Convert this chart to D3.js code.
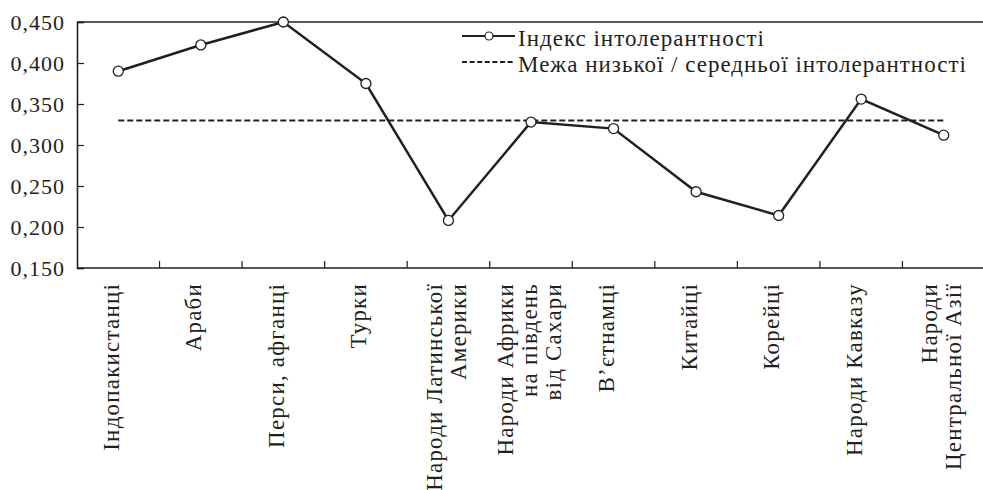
<!DOCTYPE html>
<html>
<head>
<meta charset="utf-8">
<script src="https://cdn.jsdelivr.net/npm/d3@7"></script>
<style>
body { margin:0; background:#fff; }
</style>
</head>
<body>
<svg id="chart" width="983" height="490"></svg>
<script>
// categories (lines of the rotated labels)
var categories = [
  ["Індопакистанці"],
  ["Араби"],
  ["Перси, афганці"],
  ["Турки"],
  ["Народи Латинської", "Америки"],
  ["Народи Африки", "на південь", "від Сахари"],
  ["В’єтнамці"],
  ["Китайці"],
  ["Корейці"],
  ["Народи Кавказу"],
  ["Народи", "Центральної Азії"]
];
var intolerance = [0.390, 0.422, 0.450, 0.375, 0.208, 0.328, 0.320, 0.243, 0.214, 0.356, 0.312];
var threshold = 0.330;
var yTicks = [0.150, 0.200, 0.250, 0.300, 0.350, 0.400, 0.450];
var legendLabels = ["Індекс інтолерантності", "Межа низької / середньої інтолерантності"];

var ink = "#231f20";
var serif = "'Liberation Serif'";
var svg = d3.select("#chart");
var pLeft = 77, pRight = 985, pTop = 22, pBottom = 268;

var x = d3.scaleBand().domain(d3.range(categories.length)).range([pLeft, pRight]);
var y = d3.scaleLinear().domain([0.15, 0.45]).range([pBottom, pTop]);
var cx = function(i){ return x(i) + x.bandwidth() / 2; };

// frame top line
svg.append("line")
  .attr("x1", pLeft).attr("x2", 983).attr("y1", pTop).attr("y2", pTop)
  .attr("stroke", ink).attr("stroke-width", 1.6);

// y axis, ticks pointing inside
var yAxis = svg.append("g").attr("transform", "translate(" + pLeft + ",0)")
  .call(d3.axisLeft(y).tickValues(yTicks).tickSize(-7).tickPadding(12)
        .tickFormat(function(d){ return d3.format(".3f")(d).replace(".", ","); }));
yAxis.attr("font-family", serif);
yAxis.select(".domain").attr("stroke", ink).attr("stroke-width", 1.6);
yAxis.selectAll(".tick line").attr("stroke", ink).attr("stroke-width", 1.2);
yAxis.selectAll("text").attr("font-size", 22).attr("font-family", serif)
  .attr("letter-spacing", 1).attr("fill", ink);

// x axis with ticks on band boundaries
var xAxis = svg.append("g").attr("transform", "translate(0," + pBottom + ")");
xAxis.append("line").attr("x1", pLeft).attr("x2", 983).attr("stroke", ink).attr("stroke-width", 1.6);
xAxis.selectAll(".xt").data(d3.range(1, categories.length)).enter().append("line")
  .attr("x1", function(i){ return x(i); }).attr("x2", function(i){ return x(i); })
  .attr("y1", 0).attr("y2", -7).attr("stroke", ink).attr("stroke-width", 1.2);

var lineH = 24;
var lab = xAxis.selectAll(".lab").data(categories).enter().append("text")
  .attr("transform", function(d, i){
    var shift = d.length === 1 ? -7 : -2;
    return "translate(" + (cx(i) + shift) + ",15) rotate(-90)";
  })
  .attr("text-anchor", "end").attr("font-size", 23).attr("letter-spacing", 1.2)
  .attr("font-family", serif).attr("fill", ink);
lab.each(function(d){
  var t = d3.select(this), n = d.length;
  d.forEach(function(s, k){
    t.append("tspan").attr("x", 0)
      .attr("y", (k - (n - 1) / 2) * lineH + 7.5)
      .text(s);
  });
});

// threshold line
svg.append("line")
  .attr("x1", cx(0)).attr("x2", cx(categories.length - 1))
  .attr("y1", y(threshold)).attr("y2", y(threshold))
  .attr("stroke", ink).attr("stroke-width", 2).attr("stroke-dasharray", "6,3");

// series line
svg.append("path").datum(intolerance)
  .attr("fill", "none").attr("stroke", ink).attr("stroke-width", 2.5)
  .attr("d", d3.line().x(function(d, i){ return cx(i); }).y(function(d){ return y(d); }));

svg.selectAll(".pt").data(intolerance).enter().append("circle")
  .attr("cx", function(d, i){ return cx(i); }).attr("cy", function(d){ return y(d); })
  .attr("r", 5).attr("fill", "#fff").attr("stroke", ink).attr("stroke-width", 1.3);

// legend
var lg = svg.append("g");
lg.append("line").attr("x1", 462).attr("x2", 515).attr("y1", 36).attr("y2", 36)
  .attr("stroke", ink).attr("stroke-width", 2);
lg.append("circle").attr("cx", 489).attr("cy", 36).attr("r", 4)
  .attr("fill", "#fff").attr("stroke", ink).attr("stroke-width", 1.2);
lg.append("line").attr("x1", 462).attr("x2", 515).attr("y1", 62).attr("y2", 62)
  .attr("stroke", ink).attr("stroke-width", 2).attr("stroke-dasharray", "5,2.6");
lg.selectAll(".lt").data(legendLabels).enter().append("text")
  .attr("x", 518).attr("y", function(d, i){ return 46 + i * 26; })
  .attr("font-size", 23).attr("letter-spacing", 1).attr("font-family", serif)
  .attr("fill", ink).text(function(d){ return d; });
</script>
</body>
</html>
